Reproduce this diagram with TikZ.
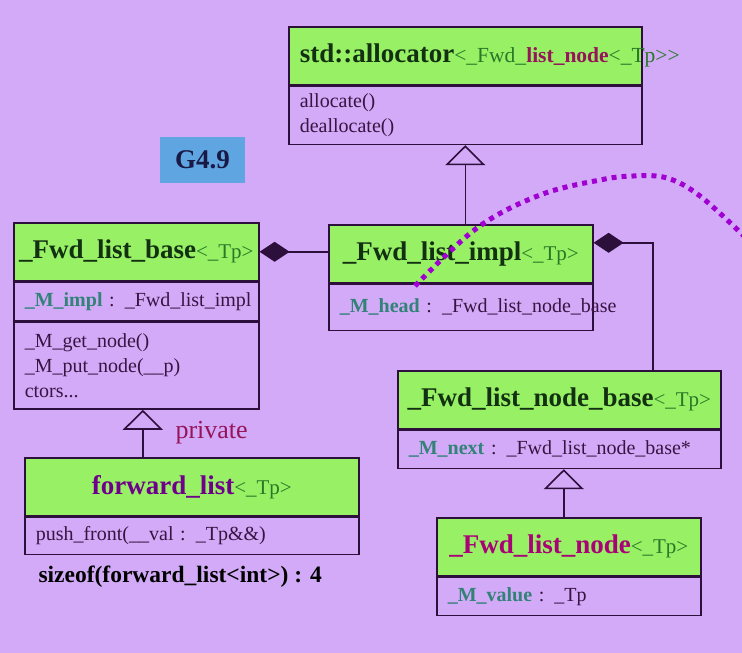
\documentclass[tikz,border=0pt]{standalone}
\usepackage{fontspec}
\setmainfont{Liberation Serif}
\usepackage{tikz}
\usetikzlibrary{positioning,arrows.meta}
\definecolor{bglilac}{RGB}{210,170,248}
\definecolor{umlgreen}{RGB}{152,240,100}
\definecolor{umlline}{RGB}{45,15,60}
\definecolor{titlegreen}{RGB}{18,48,18}
\definecolor{tpgreen}{RGB}{40,120,40}
\definecolor{attrteal}{RGB}{50,130,120}
\definecolor{bodytext}{RGB}{55,20,65}
\definecolor{nodemagenta}{RGB}{170,0,120}
\definecolor{fwdpurple}{RGB}{110,0,140}
\definecolor{listred}{RGB}{150,20,90}
\definecolor{privred}{RGB}{150,20,90}
\definecolor{penpurple}{RGB}{160,0,210}
\definecolor{vblue}{RGB}{95,165,225}
\definecolor{vnavy}{RGB}{25,25,70}
\newcommand{\tparg}{{\fontsize{21}{24}\selectfont\mdseries\color{tpgreen}<\_Tp>}}
\newcommand{\attr}[1]{\textcolor{attrteal}{\textbf{#1}}}

\begin{document}
\begin{tikzpicture}[x=1pt,y=1pt,
  head/.style={draw=umlline, fill=umlgreen, line width=1.6pt, minimum width=#1, minimum height=58pt, inner sep=0pt, font=\fontsize{27}{30}\selectfont\bfseries, text=titlegreen},
  part/.style={draw=umlline, line width=1.6pt, text width=#1, inner xsep=11pt, inner ysep=0pt, align=left, font=\fontsize{20}{25}\selectfont, text=bodytext},
  inherit/.style={draw=umlline, line width=1.6pt, -{Triangle[open, length=20pt, width=40pt]}},
  compose/.style={draw=umlline, line width=1.6pt, {Diamond[length=30pt, width=20pt, fill=umlline]}-},
  pen/.style={draw=penpurple, line width=5pt, dash pattern=on 5pt off 5pt},
]
  \useasboundingbox (0,0) rectangle (742,-653);
  \fill[bglilac] (0,0) rectangle (742,-653);

  \node[head=353pt, anchor=north west, text width=331pt, inner xsep=11pt, align=left] (allochead) at (288,-26)
    {\mbox{std::allocator{\fontsize{21.5}{24}\selectfont\mdseries\color{tpgreen}<\_Fwd\_\textbf{\color{listred}list\_node}<\_Tp>{}>}}};
  \node[part=331pt, minimum height=58pt, below=0pt of allochead] (allocmeth) {allocate()\\ deallocate()};

  \node[fill=vblue, minimum width=85pt, minimum height=46pt, font=\fontsize{27}{30}\selectfont\bfseries, text=vnavy] (version) at (202.5,-160) {G4.9};

  \node[head=245pt, anchor=north west] (basehead) at (13,-222) {\_Fwd\_list\_base\tparg};
  \node[part=223pt, minimum height=38pt, below=0pt of basehead] (baseattr) {\mbox{\attr{\_M\_impl} : \_Fwd\_list\_impl}};
  \node[part=223pt, minimum height=87pt, below=0pt of baseattr] (basemeth) {\_M\_get\_node()\\ \_M\_put\_node(\_\_p)\\ ctors...};

  \node[head=264pt, anchor=north west] (implhead) at (328,-224) {\_Fwd\_list\_impl\tparg};
  \node[part=242pt, minimum height=46pt, below=0pt of implhead] (implattr) {\mbox{\attr{\_M\_head} : \_Fwd\_list\_node\_base}};

  \node[head=323pt, anchor=north west] (nbhead) at (397,-370) {\_Fwd\_list\_node\_base\tparg};
  \node[part=301pt, minimum height=38pt, below=0pt of nbhead] (nbattr) {\mbox{\attr{\_M\_next} : \_Fwd\_list\_node\_base*}};

  \node[head=264pt, anchor=north west] (nodehead) at (436,-517) {\textcolor{nodemagenta}{\_Fwd\_list\_node}\tparg};
  \node[part=242pt, minimum height=38pt, below=0pt of nodehead] (nodeattr) {\mbox{\attr{\_M\_value} : \_Tp}};

  \node[head=334pt, anchor=north west] (fwdhead) at (24,-457) {\textcolor{fwdpurple}{forward\_list}\tparg};
  \node[part=312pt, minimum height=37pt, below=0pt of fwdhead] (fwdmeth) {\mbox{push\_front(\_\_val : \_Tp\&\&)}};

  \node[font=\fontsize{23.5}{28}\selectfont\bfseries, anchor=west] (sizeof) at (35,-577) {sizeof(forward\_list<int>) : 4};
  \node[font=\fontsize{26}{30}\selectfont, text=privred, anchor=west] (priv) at (172,-433) {private};

  \draw[inherit] (implhead.north -| allocmeth.south) -- (allocmeth.south);
  \draw[inherit] ([xshift=-49pt]fwdhead.north) -- ([xshift=-49pt]fwdhead.north |- basemeth.south);
  \draw[inherit] ([xshift=-5pt]nodehead.north) -- ([xshift=-5pt]nodehead.north |- nbattr.south);
  \draw[compose] (basehead.east) -- (basehead.east -| implhead.west);
  \draw[compose] ([yshift=11pt]implhead.east) -| ([xshift=93.5pt]nbhead.north);

  \draw[pen] plot[smooth, tension=0.6] coordinates {(415,-286) (477,-228) (540,-195) (600,-180) (633,-176) (667,-178) (700,-196) (745,-237)};
\end{tikzpicture}
\end{document}
